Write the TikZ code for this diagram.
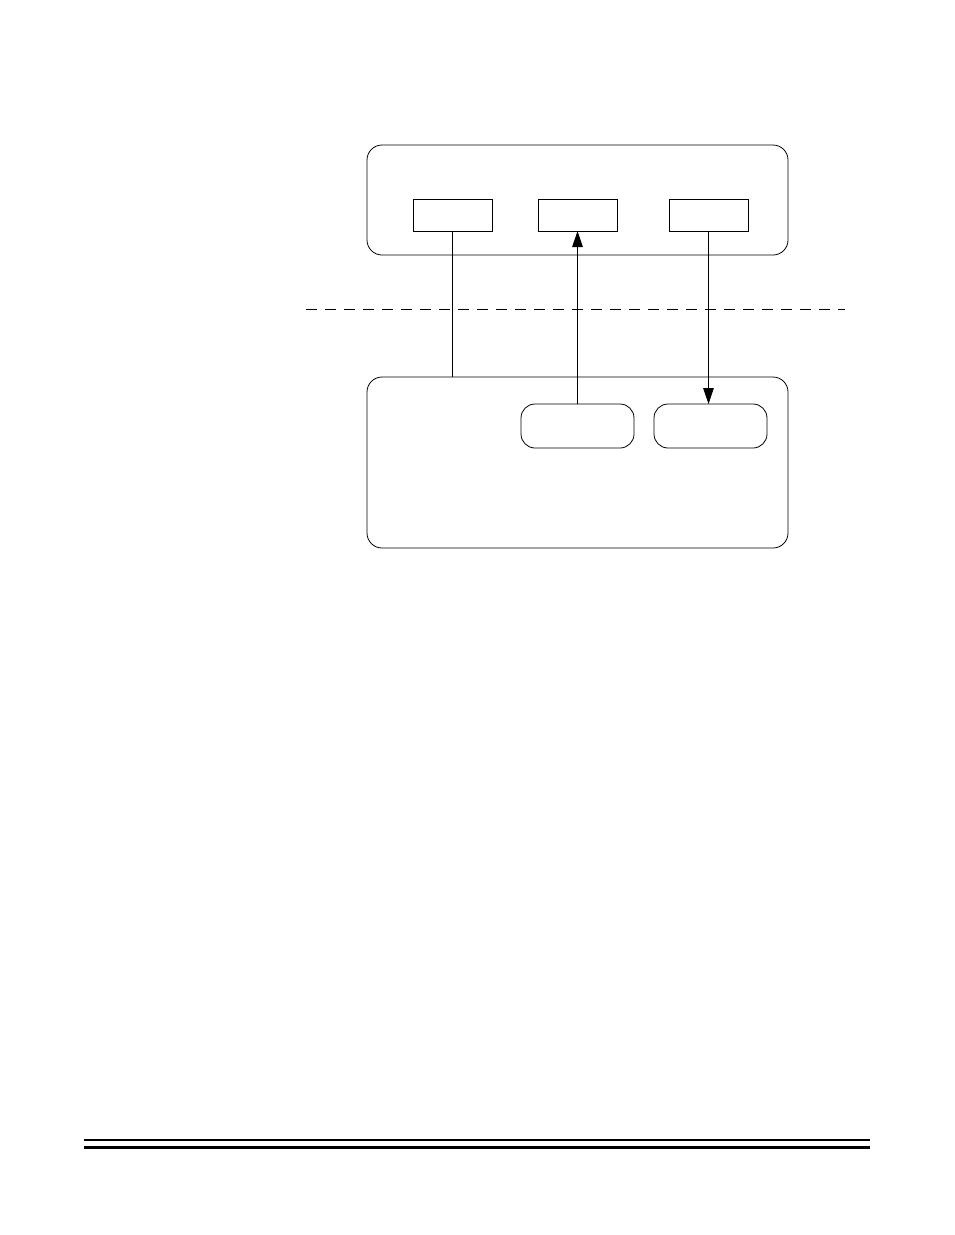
\documentclass[tikz,border=0pt]{standalone}
\usetikzlibrary{arrows.meta}
\begin{document}
\begin{tikzpicture}[x=1pt,y=1pt,
  outerbox/.style={draw,line width=0.8pt,rounded corners=15pt,inner sep=0pt,outer sep=0pt,minimum width=421pt},
  smallbox/.style={draw,line width=0.8pt,inner sep=0pt,outer sep=0pt,minimum width=79pt,minimum height=32pt},
  pillbox/.style={draw,line width=0.8pt,rounded corners=14pt,inner sep=0pt,outer sep=0pt,minimum width=113pt,minimum height=44pt},
  conn/.style={line width=0.8pt},
  arr/.style={line width=0.8pt,-{Triangle[length=16pt,width=10.5pt]}},
  rule/.style={line cap=butt}]
\useasboundingbox (0,0) rectangle (954,-1235);
\fill[white] (0,0) rectangle (954,-1235);
% top box
\node[outerbox,minimum height=110pt] (top) at (577.5,-200) {};
\node[smallbox] (r1) at (452.5,-215) {};
\node[smallbox] (r2) at (577.5,-215) {};
\node[smallbox] (r3) at (708.5,-215) {};
% bottom box
\node[outerbox,minimum height=171pt] (bot) at (577.5,-462.5) {};
\node[pillbox] (pa) at (577.5,-426) {};
\node[pillbox] (pb) at (710.5,-426) {};
% dashed divider
\coordinate (dl) at (306,-309);
\coordinate (dr) at (845,-309);
\draw[line width=0.8pt,dash pattern=on 11pt off 8pt] (dl) -- (dr);
% connectors
\draw[conn] (r1.south) -- (r1.south |- bot.north);
\draw[arr] (pa.north) -- (r2.south);
\draw[arr] (r3.south) -- (r3.south |- pb.north);
% footer rules
\coordinate (fl1) at (84,-1140);
\coordinate (fr1) at (870,-1140);
\coordinate (fl2) at (84,-1147.5);
\coordinate (fr2) at (870,-1147.5);
\draw[rule,line width=1.2pt] (fl1) -- (fr1);
\draw[rule,line width=3.5pt] (fl2) -- (fr2);
\end{tikzpicture}
\end{document}
